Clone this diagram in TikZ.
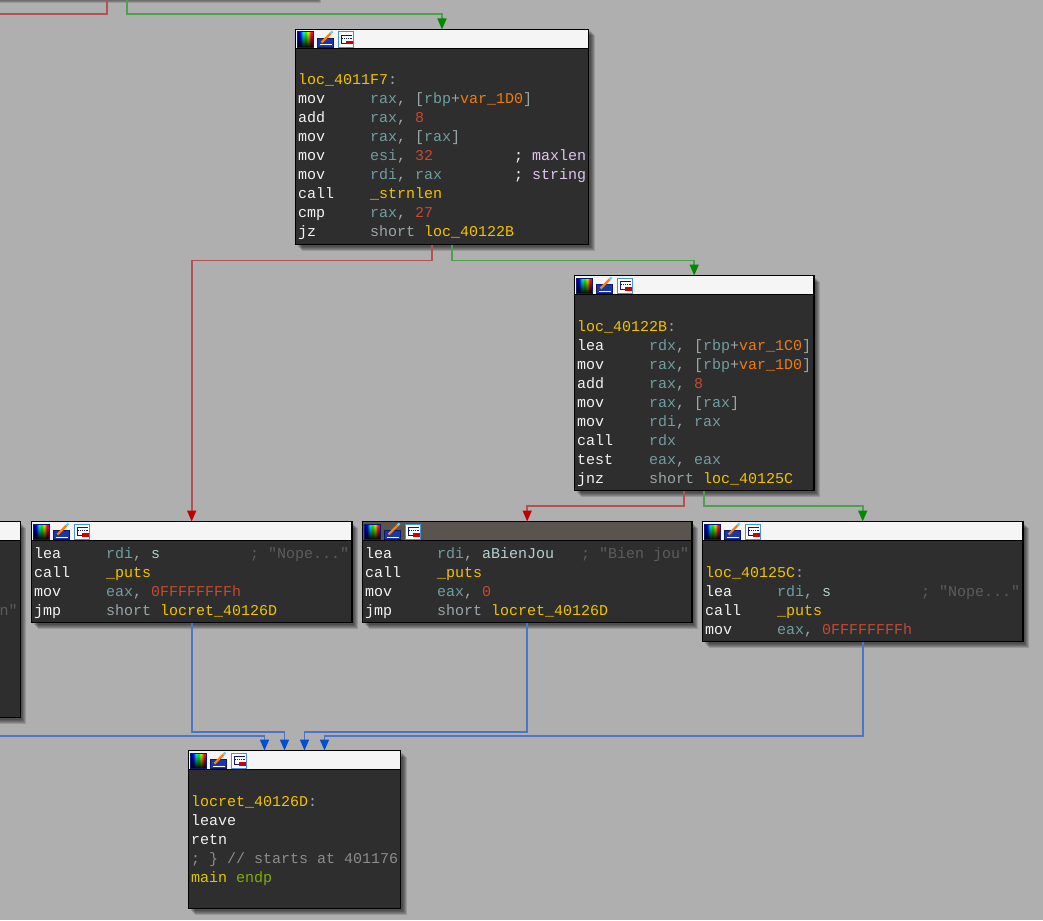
\documentclass[tikz,border=0pt]{standalone}
\usepackage{fontspec}
\setmonofont{Liberation Mono}
\usetikzlibrary{arrows.meta,shadows,fadings}

\definecolor{canvasbg}{HTML}{AFAFAF}
\definecolor{codebg}{HTML}{2E2E2E}
\definecolor{headbg}{HTML}{F5F5F5}
\definecolor{headsel}{HTML}{5A544E}
\definecolor{opwhite}{HTML}{F2F2F2}
\definecolor{regteal}{HTML}{6F9DA0}
\definecolor{puncgray}{HTML}{9AA6A8}
\definecolor{labyellow}{HTML}{F2C200}
\definecolor{numred}{HTML}{C9482E}
\definecolor{varorange}{HTML}{F07A10}
\definecolor{notepink}{HTML}{E0C4EC}
\definecolor{notedim}{HTML}{5C5C5C}
\definecolor{notegray}{HTML}{8C8C8C}
\definecolor{dataname}{HTML}{B4D0D0}
\definecolor{mainlime}{HTML}{DCC800}
\definecolor{endpgreen}{HTML}{80AE00}
\definecolor{failline}{HTML}{B25252}
\definecolor{failtip}{HTML}{C00000}
\definecolor{takenline}{HTML}{4DA04D}
\definecolor{takentip}{HTML}{008A00}
\definecolor{jumpline}{HTML}{4F74C4}
\definecolor{jumptip}{HTML}{0050D0}
\definecolor{navy}{HTML}{10186A}
\definecolor{pencilblue}{HTML}{1838A8}
\definecolor{frameblue}{HTML}{4A90E0}

\pgfdeclarehorizontalshading{rainbow}{100bp}{color(0bp)=(blue!60!black); color(25bp)=(blue!60!black); color(33bp)=(blue); color(42bp)=(cyan); color(50bp)=(green); color(58bp)=(yellow); color(67bp)=(red); color(75bp)=(magenta); color(100bp)=(magenta)}

\newcommand{\cstrut}{\spaceskip=9pt\xspaceskip=9pt\rule[-4.5pt]{0pt}{19pt}}
\newcommand{\regt}[1]{\textcolor{regteal}{#1}}
\newcommand{\labt}[1]{\textcolor{labyellow}{#1}}
\newcommand{\numt}[1]{\textcolor{numred}{#1}}
\newcommand{\vart}[1]{\textcolor{varorange}{#1}}
\newcommand{\punct}[1]{\textcolor{puncgray}{#1}}
\newcommand{\ins}[2]{\cstrut\makebox[72pt][l]{#1}\mbox{#2}}
\newcommand{\withnote}[2]{\makebox[144pt][l]{#1}#2}
\newcommand{\pinknote}[1]{\textcolor{opwhite}{;} \textcolor{notepink}{#1}}
\newcommand{\dimnote}[1]{\textcolor{notedim}{; #1}}

\tikzset{
  softshadow/.style={general shadow={shadow xshift=#1pt,shadow yshift=-#1pt,fill=black,opacity=.14}},
  codeblock/.style={draw=black,line width=1.2pt,fill=codebg,anchor=north west,align=left,
    inner xsep=2.7pt,inner ysep=3pt,outer sep=0pt,text=opwhite,
    font=\ttfamily\fontsize{15}{19}\selectfont,
    softshadow=6,softshadow=5,softshadow=4,softshadow=3,softshadow=2},
  failedge/.style={draw=failline,line width=1.6pt,-{Triangle[length=11pt,width=9pt,color=failtip]}},
  takenedge/.style={draw=takenline,line width=1.6pt,-{Triangle[length=11pt,width=9pt,color=takentip]}},
  jumpedge/.style={draw=jumpline,line width=1.6pt,-{Triangle[length=11pt,width=9pt,color=jumptip]}},
  headbar/.style={draw=black,line width=1.2pt},
  blockicons/.pic={
    % colour picker
    \shade[shading=rainbow] (2,2.5) rectangle (18,18);
    \fill[black,path fading=north] (2,2.5) rectangle (18,18);
    \draw[navy,line width=1pt] (2,2.5) rectangle (18,18);
    % pencil
    \draw[fill=pencilblue,draw=navy,line width=1pt] (22,9) rectangle (38,18);
    \draw[white,line width=1pt] (24,15.5) -- (36,15.5);
    \draw[orange,line width=2.4pt] (26,13) -- (35,4);
    \draw[cyan!60,line width=2.4pt] (35,4) -- (37,2);
    % graph view
    \draw[fill=white,draw=frameblue,line width=1pt] (42.5,2.5) rectangle (58,18);
    \draw[navy,line width=.8pt] (45,6) -- (56,6);
    \draw[navy,line width=.8pt,densely dotted] (45,9) -- (56,9);
    \draw[navy,line width=.8pt] (46,6) -- (46,14) -- (50,14);
    \fill[red!80!black] (50,11.5) rectangle (57,15);
  }
}

\begin{document}
\begin{tikzpicture}[x=1pt,y=-1pt]

  \fill[canvasbg] (0,0) rectangle (1043,920);
  \useasboundingbox (0,0) rectangle (1043,920);

  % block above the visible part
  \node[codeblock,text width=390.6pt] (blockT) at (-81,-47) {\cstrut\\\cstrut};

  \node[codeblock,text width=287.6pt] (blockA) at (295.5,29.5) {\cstrut\\
    \cstrut\\
    \cstrut\labt{loc\_4011F7}\punct{:}\\
    \ins{mov}{\regt{rax}\punct{, [}\regt{rbp}\punct{+}\vart{var\_1D0}\punct{]}}\\
    \ins{add}{\regt{rax}\punct{, }\numt{8}}\\
    \ins{mov}{\regt{rax}\punct{, [}\regt{rax}\punct{]}}\\
    \ins{mov}{\withnote{\regt{esi}\punct{, }\numt{32}}{\pinknote{maxlen}}}\\
    \ins{mov}{\withnote{\regt{rdi}\punct{, }\regt{rax}}{\pinknote{string}}}\\
    \ins{call}{\labt{\_strnlen}}\\
    \ins{cmp}{\regt{rax}\punct{, }\numt{27}}\\
    \ins{jz}{\punct{short} \labt{loc\_40122B}}};

  \node[codeblock,text width=234pt] (blockB) at (574.5,275.5) {\cstrut\\
    \cstrut\\
    \cstrut\labt{loc\_40122B}\punct{:}\\
    \ins{lea}{\regt{rdx}\punct{, [}\regt{rbp}\punct{+}\vart{var\_1C0}\punct{]}}\\
    \ins{mov}{\regt{rax}\punct{, [}\regt{rbp}\punct{+}\vart{var\_1D0}\punct{]}}\\
    \ins{add}{\regt{rax}\punct{, }\numt{8}}\\
    \ins{mov}{\regt{rax}\punct{, [}\regt{rax}\punct{]}}\\
    \ins{mov}{\regt{rdi}\punct{, }\regt{rax}}\\
    \ins{call}{\regt{rdx}}\\
    \ins{test}{\regt{eax}\punct{, }\regt{eax}}\\
    \ins{jnz}{\punct{short} \labt{loc\_40125C}}};

  % block cut by the left edge
  \node[codeblock,text width=335pt] (blockL) at (-320,521.5) {\cstrut\\
    \cstrut\\\cstrut\\\cstrut\\
    \cstrut\hfill\textcolor{notedim}{n"}\\
    \cstrut\\\cstrut\\\cstrut\\\cstrut\\\cstrut};

  \node[codeblock,text width=315pt] (blockC) at (31.5,521.5) {\cstrut\\
    \ins{lea}{\withnote{\regt{rdi}\punct{, }\textcolor{dataname}{s}}{\dimnote{"Nope..."}}}\\
    \ins{call}{\labt{\_puts}}\\
    \ins{mov}{\regt{eax}\punct{, }\numt{0FFFFFFFFh}}\\
    \ins{jmp}{\punct{short} \labt{locret\_40126D}}};

  \node[codeblock,text width=324pt] (blockD) at (362.5,521.5) {\cstrut\\
    \ins{lea}{\withnote{\regt{rdi}\punct{, }\textcolor{dataname}{aBienJou}}{\dimnote{"Bien jou"}}}\\
    \ins{call}{\labt{\_puts}}\\
    \ins{mov}{\regt{eax}\punct{, }\numt{0}}\\
    \ins{jmp}{\punct{short} \labt{locret\_40126D}}};

  \node[codeblock,text width=315pt] (blockE) at (702.5,521.5) {\cstrut\\
    \cstrut\\
    \cstrut\labt{loc\_40125C}\punct{:}\\
    \ins{lea}{\withnote{\regt{rdi}\punct{, }\textcolor{dataname}{s}}{\dimnote{"Nope..."}}}\\
    \ins{call}{\labt{\_puts}}\\
    \ins{mov}{\regt{eax}\punct{, }\numt{0FFFFFFFFh}}};

  \node[codeblock,text width=206.6pt] (blockF) at (188.5,750.5) {\cstrut\\
    \cstrut\\
    \cstrut\labt{locret\_40126D}\punct{:}\\
    \cstrut leave\\
    \cstrut retn\\
    \cstrut\mbox{\textcolor{notegray}{; \} // starts at 401176}}\\
    \cstrut\textcolor{mainlime}{main} \textcolor{endpgreen}{endp}\\
    \cstrut};

  % title bars
  \foreach \blk/\barcol in {blockL/headbg,blockA/headbg,blockB/headbg,blockC/headbg,blockD/headsel,blockE/headbg,blockF/headbg} {
    \draw[headbar,fill=\barcol] (\blk.north west) rectangle ([yshift=-19pt]\blk.north east);
    \pic at (\blk.north west) {blockicons};
  }

  \coordinate (offleft) at (-20,14);

  \draw[draw=failline,line width=1.6pt] ([xshift=-10pt]blockT.south) -- ++(0,17) -- (offleft);
  \draw[takenedge] ([xshift=10pt]blockT.south) -- ++(0,17) -| (blockA.north);
  \draw[failedge] ([xshift=-10pt]blockA.south) -- ++(0,16) -| (blockC.north);
  \draw[takenedge] ([xshift=10pt]blockA.south) -- ++(0,16) -| (blockB.north);
  \draw[failedge] ([xshift=-10pt]blockB.south) -- ++(0,15.5) -| (blockD.north);
  \draw[takenedge] ([xshift=10pt]blockB.south) -- ++(0,15.5) -| (blockE.north);
  \draw[jumpedge] (blockL.south) -- ++(0,18.5) -| ([xshift=-30pt]blockF.north);
  \draw[jumpedge] (blockC.south) -- ++(0,109.5) -| ([xshift=-10pt]blockF.north);
  \draw[jumpedge] (blockD.south) -- ++(0,109.5) -| ([xshift=10pt]blockF.north);
  \draw[jumpedge] (blockE.south) -- ++(0,94.5) -| ([xshift=30pt]blockF.north);

\end{tikzpicture}
\end{document}
